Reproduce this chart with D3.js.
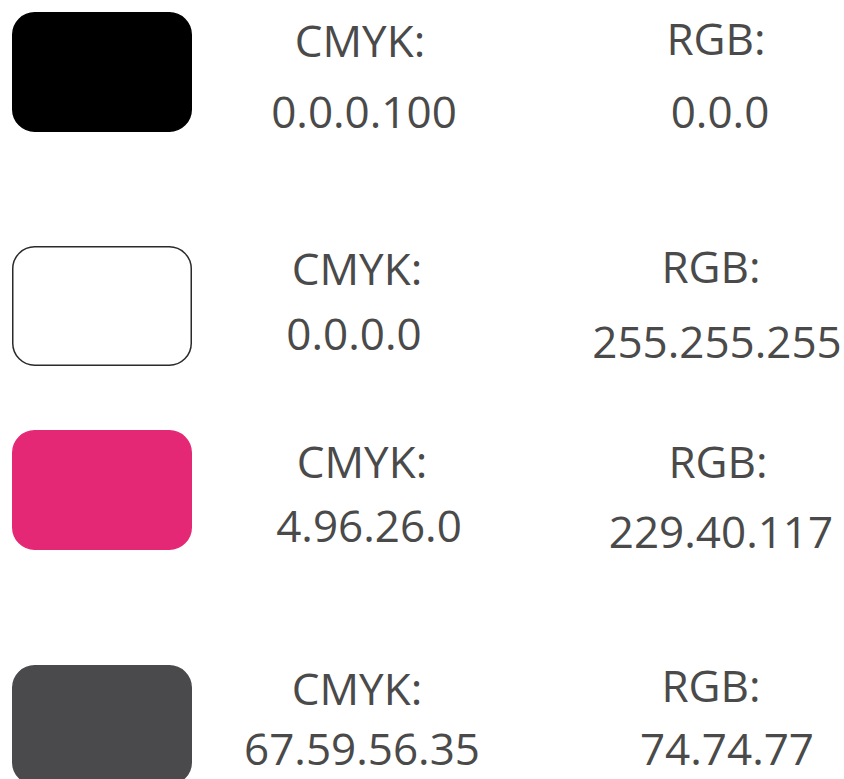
<!DOCTYPE html>
<html>
<head>
<meta charset="utf-8">
<script src="https://cdn.jsdelivr.net/npm/d3@7"></script>
<style>
  html, body { margin: 0; padding: 0; background: #fff; }
  svg { display: block; }
</style>
</head>
<body>
<svg id="chart" width="844" height="779"></svg>
<script>
// ---- data ----
const swatchNames = ["Black", "White", "Pink", "Dark Gray"];
const swatchColors = ["#000000", "#ffffff", "#e52875", "#4a4a4d"];
const cmykLabel = "CMYK:";
const rgbLabel = "RGB:";
const cmykValues = ["0.0.0.100", "0.0.0.0", "4.96.26.0", "67.59.56.35"];
const rgbValues = ["0.0.0", "255.255.255", "229.40.117", "74.74.77"];

// ---- layout (kept separate from data) ----
const rowTop = [12, 246, 430, 665];          // swatch top edges
const cmykHeadPos = [[360, 57], [357, 285], [362, 478], [357, 705]];
const cmykValPos  = [[364, 128], [354, 350], [369, 542], [362, 765]];
const rgbHeadPos  = [[716, 55], [711, 283], [718, 478], [711, 702]];
const rgbValPos   = [[720, 128], [717, 358], [721, 548], [727, 765]];

const svg = d3.select("#chart");
const x = d3.scaleLinear().domain([0, 1]).range([12, 192]);

const rows = swatchNames.map((n, i) => ({
  name: n, color: swatchColors[i], cmyk: cmykValues[i], rgb: rgbValues[i], i
}));

const g = svg.selectAll("g.row").data(rows).join("g").attr("class", "row");

g.append("rect")
  .attr("x", x(0) + 0.75)
  .attr("y", d => rowTop[d.i] + 0.75)
  .attr("width", x(1) - x(0) - 1.5)
  .attr("height", 118.5)
  .attr("rx", 22).attr("ry", 22)
  .attr("fill", d => d.color)
  .attr("stroke", d => d.color === "#ffffff" ? "#2a2a2a" : d.color)
  .attr("stroke-width", 1.5);

const textStyle = sel => sel
  .attr("text-anchor", "middle")
  .attr("font-family", "'Open Sans', sans-serif")
  .attr("font-size", 44)
  .attr("fill", "#4a4a4a");

g.append("text").call(textStyle)
  .attr("x", d => cmykHeadPos[d.i][0]).attr("y", d => cmykHeadPos[d.i][1])
  .text(cmykLabel);
g.append("text").call(textStyle)
  .attr("x", d => cmykValPos[d.i][0]).attr("y", d => cmykValPos[d.i][1])
  .text(d => d.cmyk);
g.append("text").call(textStyle)
  .attr("x", d => rgbHeadPos[d.i][0]).attr("y", d => rgbHeadPos[d.i][1])
  .text(rgbLabel);
g.append("text").call(textStyle)
  .attr("x", d => rgbValPos[d.i][0]).attr("y", d => rgbValPos[d.i][1])
  .text(d => d.rgb);
</script>
</body>
</html>
